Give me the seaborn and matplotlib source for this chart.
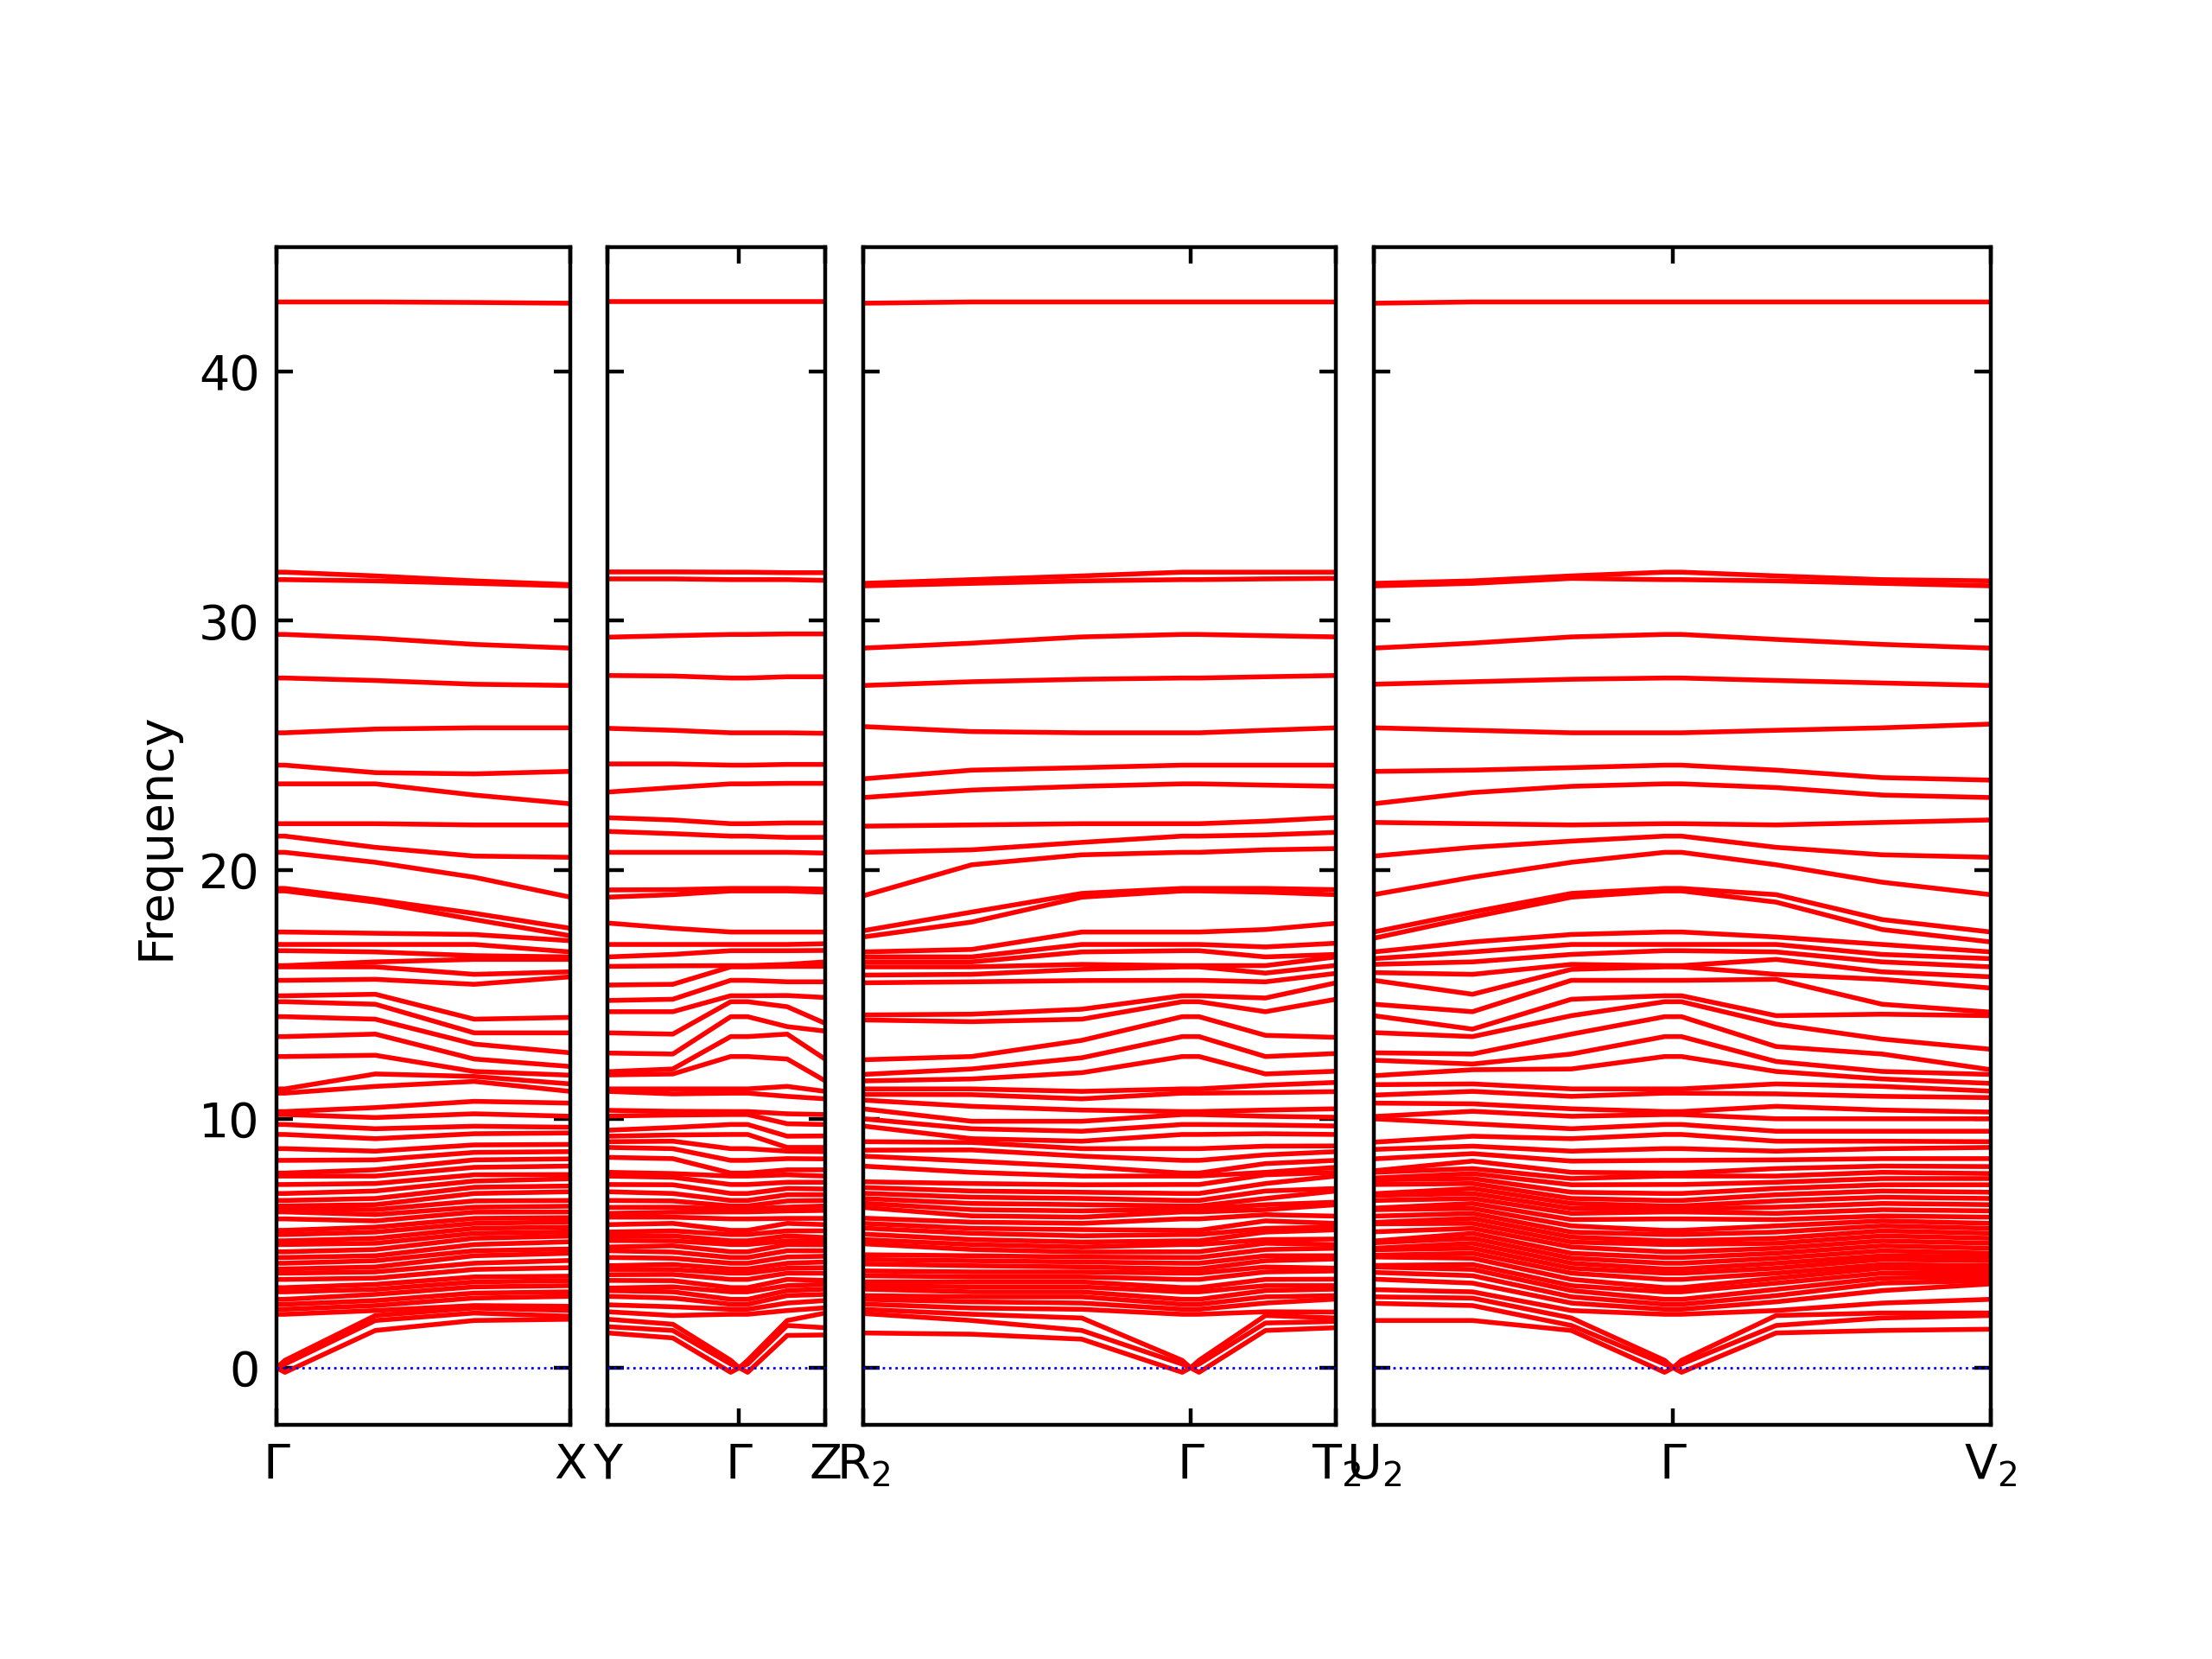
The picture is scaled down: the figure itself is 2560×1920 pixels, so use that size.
import matplotlib
matplotlib.use("Agg")
import matplotlib.pyplot as plt
import numpy as np
import pandas as pd
import seaborn as sns

# Phonon frequencies, sorted at each k-point.
# "low" = bands up to ~11, "high" = bands above. Acoustic branches are 0 at Gamma.
GAMMA_ACOUSTIC = [0.0, 0.0, 0.0]
NEAR_GAMMA_ACOUSTIC = [-0.18, 0.15, 0.3]
GAMMA_OPTICAL = [2.15, 2.35, 2.55, 2.75, 3.05, 3.22, 3.55, 3.8, 3.97, 4.2,
                 4.43, 4.66, 4.95, 5.1, 5.35, 5.52, 5.98, 6.26, 6.38, 6.5,
                 6.72, 7.0, 7.36, 7.7, 7.82, 8.33, 8.8, 9.37, 9.77, 10.17,
                 10.29, 11.03, 11.2, 12.5, 13.3, 14.1, 14.7, 14.94, 15.56, 16.1,
                 16.15, 16.75, 17.0, 17.5, 19.15, 19.25, 20.7, 21.35, 21.85, 23.45,
                 24.2, 25.5, 27.7, 29.45, 31.65, 31.95, 42.8]

# panel 1: Gamma -> X
P1_K = [0.0, 0.06, 0.7, 1.4, 2.08]
P1_07_LOW = [1.5, 1.9, 2.1, 2.3, 2.5, 2.7, 2.95, 3.15, 3.35, 3.6, 3.85, 4.05, 4.3, 4.5, 4.75,
             5.0, 5.2, 5.45, 5.65, 5.9, 6.15, 6.35, 6.55, 6.8, 7.1, 7.4, 7.7, 7.95, 8.35, 8.7,
             9.2, 9.6, 10.05, 10.45, 11.3]
P1_07_HIGH = [11.8, 12.55, 13.4, 14.0, 14.6, 15.0, 15.6, 16.1, 16.3, 16.7, 17.0, 17.45, 18.7,
              18.8, 20.3, 20.9, 21.85, 23.45, 23.9, 25.65, 27.6, 29.3, 31.6, 31.8, 42.8]
P1_14_LOW = [1.9, 2.2, 2.4, 2.5, 2.8, 3.0, 3.25, 3.45, 3.65, 3.95, 4.2, 4.5, 4.7, 4.95, 5.2,
             5.4, 5.6, 5.8, 6.0, 6.25, 6.45, 6.7, 7.0, 7.25, 7.5, 7.75, 8.05, 8.35, 8.65, 8.95,
             9.4, 9.7, 10.2, 10.7, 11.5]
P1_14_HIGH = [11.7, 11.9, 12.4, 13.0, 13.45, 14.0, 15.4, 15.8, 16.4, 16.55, 17.0, 17.4, 18.0,
              18.25, 19.7, 20.55, 21.8, 23.0, 23.85, 25.7, 27.45, 29.05, 31.5, 31.6, 42.78]
X_LOW = [1.95, 2.07, 2.3, 2.47, 2.87, 3.05, 3.3, 3.5, 3.68, 4.02, 4.31, 4.6, 4.77, 5.06, 5.29,
         5.46, 5.65, 5.86, 6.03, 6.26, 6.49, 6.72, 7.07, 7.3, 7.59, 7.76, 8.1, 8.39, 8.68, 8.97,
         9.43, 9.66, 10.1, 10.63, 11.1]
X_HIGH = [11.4, 11.75, 12.1, 12.65, 13.45, 14.07, 15.7, 15.9, 16.4, 16.5, 16.7, 17.15, 17.35,
          17.65, 18.9, 20.5, 21.8, 22.65, 23.95, 25.7, 27.4, 28.9, 31.4, 31.45, 42.75]

# panel 2: Y -> Gamma -> Z
P2_K = [0.0, 0.46, 0.87, 0.93, 0.99, 1.27, 1.54]
Y_LOW = [1.4, 1.65, 1.95, 2.25, 2.53, 2.87, 3.1, 3.2, 3.51, 3.74, 3.95, 4.1, 4.43, 4.7, 4.85,
         5.11, 5.3, 5.45, 5.75, 6.05, 6.2, 6.44, 6.72, 7.07, 7.36, 7.7, 7.85, 8.45, 8.85, 9.08,
         9.3, 9.54, 10.11, 10.34, 11.1]
Y_HIGH = [11.2, 11.76, 11.89, 12.64, 13.45, 14.3, 14.75, 15.37, 16.12, 16.5, 17.0, 17.86, 18.9,
          19.19, 20.7, 21.54, 22.09, 23.12, 24.25, 25.68, 27.8, 29.34, 31.68, 31.96, 42.8]
P2_046_LOW = [1.2, 1.5, 1.75, 2.1, 2.45, 2.8, 3.05, 3.25, 3.5, 3.75, 3.95, 4.15, 4.4, 4.65, 4.9,
              5.1, 5.3, 5.5, 5.8, 6.05, 6.25, 6.45, 6.7, 7.0, 7.35, 7.65, 7.8, 8.4, 8.8, 9.1,
              9.35, 9.65, 10.15, 10.3, 11.0]
P2_046_HIGH = [11.2, 11.8, 12.0, 12.6, 13.4, 14.3, 14.8, 15.4, 16.14, 16.6, 17.0, 17.65, 19.0,
               19.2, 20.7, 21.45, 22.0, 23.3, 24.25, 25.6, 27.78, 29.4, 31.68, 31.96, 42.8]
P2_127_LOW = [1.3, 1.7, 1.9, 2.3, 2.6, 2.9, 3.1, 3.3, 3.55, 3.8, 4.0, 4.2, 4.45, 4.7, 4.95,
              5.1, 5.3, 5.5, 5.8, 6.0, 6.3, 6.45, 6.7, 6.95, 7.2, 7.45, 7.75, 7.95, 8.4, 8.7,
              8.85, 9.3, 9.8, 10.2, 10.9]
P2_127_HIGH = [11.3, 12.4, 13.4, 13.7, 14.5, 14.95, 15.5, 16.12, 16.2, 16.75, 17.0, 17.5, 19.15,
               19.25, 20.7, 21.3, 21.88, 23.47, 24.23, 25.5, 27.75, 29.47, 31.65, 31.93, 42.8]
Z_LOW = [1.32, 1.61, 2.2, 2.41, 2.7, 2.95, 3.16, 3.35, 3.51, 3.8, 4.02, 4.25, 4.48, 4.7, 4.94,
         5.1, 5.23, 5.5, 5.75, 6.0, 6.32, 6.5, 6.72, 6.95, 7.18, 7.45, 7.7, 7.95, 8.39, 8.68,
         8.85, 9.31, 9.77, 10.17, 10.8]
Z_HIGH = [11.1, 11.52, 12.39, 13.52, 13.83, 14.87, 15.5, 16.12, 16.3, 16.76, 17.03, 17.5, 19.1,
          19.22, 20.67, 21.3, 21.88, 23.47, 24.23, 25.48, 27.75, 29.47, 31.62, 31.93, 42.8]

# panel 3: R2 -> Gamma -> T2
P3_K = [0.0, 0.77, 1.55, 2.26, 2.32, 2.38, 2.85, 3.35]
R2_LOW = [1.4, 2.18, 2.35, 2.56, 2.75, 2.9, 3.16, 3.3, 3.45, 3.7, 3.89, 4.17, 4.35, 4.54, 4.98,
          5.15, 5.37, 5.61, 5.8, 6.01, 6.44, 6.61, 6.8, 7.01, 7.24, 7.47, 8.1, 8.5, 8.74, 9.08,
          9.71, 10.0, 10.4, 10.75, 10.98]
R2_HIGH = [11.2, 11.52, 11.78, 12.37, 13.97, 14.17, 15.46, 15.77, 16.1, 16.3, 16.5, 16.7, 17.3,
           17.55, 18.95, 20.7, 21.75, 22.9, 23.65, 25.75, 27.4, 28.9, 31.4, 31.5, 42.75]
P3_077_LOW = [1.35, 1.9, 2.15, 2.4, 2.65, 2.85, 3.05, 3.25, 3.45, 3.65, 3.85, 4.1, 4.3, 4.5, 4.75,
              4.95, 5.15, 5.4, 5.6, 5.85, 6.1, 6.35, 6.6, 6.85, 7.1, 7.4, 7.85, 8.3, 8.75, 9.05,
              9.2, 9.6, 9.9, 10.5, 10.97]
P3_077_HIGH = [11.2, 11.6, 12.0, 12.5, 13.9, 14.2, 15.5, 15.8, 16.1, 16.3, 16.5, 16.8, 17.9,
               18.3, 20.2, 20.8, 21.8, 23.2, 24.0, 25.55, 27.55, 29.1, 31.5, 31.65, 42.8]
P3_155_LOW = [1.15, 1.5, 2.0, 2.35, 2.6, 2.85, 3.05, 3.25, 3.45, 3.65, 3.85, 4.05, 4.25, 4.45, 4.65,
              4.85, 5.05, 5.3, 5.55, 5.8, 6.05, 6.3, 6.55, 6.8, 7.05, 7.35, 7.7, 8.08, 8.5, 8.8,
              9.1, 9.5, 9.9, 10.35, 10.8]
P3_155_HIGH = [11.1, 11.85, 12.45, 13.15, 14.0, 14.4, 15.55, 16.0, 16.2, 16.7, 17.0, 17.5, 18.9,
               19.05, 20.6, 21.1, 21.85, 23.35, 24.1, 25.5, 27.65, 29.35, 31.6, 31.8, 42.8]
P3_285_LOW = [1.5, 1.8, 2.1, 2.25, 2.6, 2.85, 3.1, 3.3, 3.55, 3.85, 4.05, 4.3, 4.5, 4.75, 5.0,
              5.15, 5.45, 5.6, 5.9, 6.15, 6.35, 6.55, 6.8, 7.1, 7.4, 7.75, 7.85, 8.2, 8.55, 8.9,
              9.4, 9.75, 10.1, 10.35, 11.05]
P3_285_HIGH = [11.35, 11.8, 12.5, 13.35, 14.3, 14.85, 15.5, 15.85, 16.15, 16.5, 16.9, 17.6, 19.1,
               19.25, 20.8, 21.4, 21.95, 23.4, 24.2, 25.6, 27.75, 29.4, 31.68, 31.95, 42.8]
T2_LOW = [1.61, 1.86, 2.0, 2.24, 2.76, 2.9, 3.16, 3.3, 3.56, 3.89, 4.0, 4.37, 4.5, 4.8, 4.95,
          5.17, 5.54, 5.65, 5.8, 6.09, 6.55, 6.65, 7.1, 7.2, 7.7, 7.85, 8.05, 8.33, 8.68, 8.91,
          9.37, 9.71, 10.06, 10.4, 11.09]
T2_HIGH = [11.46, 11.91, 12.62, 13.27, 14.8, 15.46, 15.84, 16.16, 16.5, 16.6, 17.05, 17.85, 19.0,
           19.2, 20.85, 21.5, 22.1, 23.35, 24.2, 25.7, 27.8, 29.35, 31.7, 31.95, 42.8]

# panel 4: U2 -> Gamma -> V2
P4_K = [0.0, 0.7, 1.4, 2.06, 2.12, 2.18, 2.85, 3.6, 4.37]
U2_LOW = [1.9, 2.59, 2.85, 3.14, 3.56, 3.83, 4.05, 4.11, 4.45, 4.52, 4.74, 4.8, 5.02, 5.09, 5.46,
          5.78, 5.84, 6.09, 6.35, 6.41, 6.72, 6.92, 6.99, 7.36, 7.55, 7.62, 7.85, 7.91, 8.39, 8.77,
          9.06, 10.0, 10.09, 10.63, 10.95]
U2_HIGH = [11.37, 11.73, 12.35, 12.65, 13.46, 14.14, 14.6, 15.56, 15.87, 16.2, 16.43, 16.7, 17.25,
           17.5, 19.0, 20.55, 21.9, 22.65, 23.95, 25.7, 27.45, 28.9, 31.4, 31.5, 42.75]
P4_07_LOW = [1.9, 2.5, 2.8, 3.05, 3.4, 3.7, 3.95, 4.15, 4.4, 4.6, 4.8, 5.0, 5.2, 5.4, 5.6,
             5.8, 6.0, 6.2, 6.4, 6.6, 6.8, 7.0, 7.2, 7.4, 7.6, 7.8, 8.0, 8.3, 8.6, 8.9,
             9.3, 9.8, 10.3, 10.6, 11.1]
P4_07_HIGH = [11.4, 11.97, 12.2, 12.6, 13.3, 13.6, 14.3, 15.0, 15.8, 16.3, 16.7, 17.1, 18.1,
              18.3, 19.7, 20.9, 21.85, 23.1, 24.0, 25.6, 27.55, 29.1, 31.5, 31.6, 42.8]
P4_14_LOW = [1.5, 1.7, 2.0, 2.3, 2.6, 2.85, 3.1, 3.3, 3.55, 3.8, 4.0, 4.2, 4.4, 4.6, 4.85,
             5.05, 5.25, 5.45, 5.7, 5.95, 6.2, 6.4, 6.6, 6.8, 7.05, 7.35, 7.6, 7.85, 8.3, 8.7,
             9.2, 9.6, 10.1, 10.4, 10.9]
P4_14_HIGH = [11.2, 12.0, 12.6, 13.4, 14.14, 14.8, 15.56, 16.0, 16.2, 16.6, 17.0, 17.4, 18.9,
              19.05, 20.3, 21.15, 21.8, 23.35, 24.1, 25.5, 27.65, 29.35, 31.7, 31.8, 42.8]
P4_285_LOW = [1.4, 1.7, 2.1, 2.3, 2.65, 2.9, 3.15, 3.4, 3.6, 3.8, 4.0, 4.2, 4.4, 4.6, 4.8,
              5.0, 5.2, 5.45, 5.7, 5.95, 6.2, 6.45, 6.7, 6.95, 7.2, 7.45, 7.7, 8.0, 8.35, 8.7,
              9.1, 9.5, 10.0, 10.5, 11.0]
P4_285_HIGH = [11.4, 11.9, 12.3, 12.9, 13.8, 14.14, 15.6, 15.8, 16.4, 16.7, 17.0, 17.3, 18.7,
               19.0, 20.2, 20.9, 21.8, 23.3, 24.0, 25.6, 27.6, 29.25, 31.6, 31.8, 42.8]
P4_36_LOW = [1.5, 2.0, 2.2, 2.6, 3.1, 3.4, 3.6, 3.8, 4.0, 4.15, 4.35, 4.5, 4.7, 4.9, 5.1,
             5.3, 5.5, 5.7, 5.9, 6.1, 6.35, 6.6, 6.85, 7.1, 7.35, 7.6, 7.85, 8.1, 8.4, 8.8,
             9.1, 9.5, 10.0, 10.35, 10.9]
P4_36_HIGH = [11.3, 11.6, 11.9, 12.6, 13.2, 14.2, 14.6, 15.6, 15.9, 16.3, 16.6, 17.0, 17.6,
              18.0, 19.5, 20.6, 21.9, 23.0, 23.7, 25.7, 27.5, 29.05, 31.5, 31.65, 42.8]
V2_LOW = [1.55, 2.1, 2.2, 2.75, 3.37, 3.5, 3.65, 3.8, 3.95, 4.1, 4.3, 4.45, 4.6, 4.8, 5.0,
          5.2, 5.4, 5.6, 5.8, 6.05, 6.3, 6.55, 6.8, 7.05, 7.35, 7.6, 7.8, 8.08, 8.4, 8.85,
          9.08, 9.5, 10.0, 10.27, 10.85]
V2_HIGH = [11.11, 11.42, 11.78, 11.97, 12.79, 14.14, 14.28, 15.25, 15.7, 16.1, 16.43, 16.7, 17.1,
           17.5, 19.0, 20.5, 22.0, 22.9, 23.6, 25.85, 27.4, 28.9, 31.4, 31.6, 42.8]

P1_TICKS = ["Γ", "X"]
P2_TICKS = ["Y", "Γ", "Z"]
P3_TICKS = [r"R$_2$", "Γ", r"T$_2$"]
P4_TICKS = [r"U$_2$", "Γ", r"V$_2$"]

GAMMA = GAMMA_ACOUSTIC + GAMMA_OPTICAL
NEAR = NEAR_GAMMA_ACOUSTIC + GAMMA_OPTICAL

panels = [
    (P1_K, [GAMMA, NEAR, P1_07_LOW + P1_07_HIGH, P1_14_LOW + P1_14_HIGH, X_LOW + X_HIGH],
     [P1_K[0], P1_K[-1]], P1_TICKS),
    (P2_K, [Y_LOW + Y_HIGH, P2_046_LOW + P2_046_HIGH, NEAR, GAMMA, NEAR,
            P2_127_LOW + P2_127_HIGH, Z_LOW + Z_HIGH],
     [P2_K[0], P2_K[3], P2_K[-1]], P2_TICKS),
    (P3_K, [R2_LOW + R2_HIGH, P3_077_LOW + P3_077_HIGH, P3_155_LOW + P3_155_HIGH, NEAR, GAMMA,
            NEAR, P3_285_LOW + P3_285_HIGH, T2_LOW + T2_HIGH],
     [P3_K[0], P3_K[4], P3_K[-1]], P3_TICKS),
    (P4_K, [U2_LOW + U2_HIGH, P4_07_LOW + P4_07_HIGH, P4_14_LOW + P4_14_HIGH, NEAR, GAMMA, NEAR,
            P4_285_LOW + P4_285_HIGH, P4_36_LOW + P4_36_HIGH, V2_LOW + V2_HIGH],
     [P4_K[0], P4_K[4], P4_K[-1]], P4_TICKS),
]


def band_frame(kpos, rows):
    records = []
    for k, row in zip(kpos, rows):
        assert len(row) == 60, (k, len(row))
        for band, freq in enumerate(np.sort(row)):
            records.append((k, freq, band))
    return pd.DataFrame(records, columns=["k", "freq", "band"])


sns.set_style("ticks")
plt.rcParams.update({
    "font.family": ["DejaVu Sans"],
    "font.size": 10,
    "axes.edgecolor": "black",
    "axes.labelcolor": "black",
    "text.color": "black",
    "xtick.color": "black",
    "ytick.color": "black",
    "xtick.direction": "in",
    "ytick.direction": "in",
    "xtick.top": True,
    "ytick.right": True,
    "xtick.major.size": 3.5,
    "ytick.major.size": 3.5,
    "xtick.labelsize": 10,
    "ytick.labelsize": 10,
    "axes.linewidth": 0.8,
})

fig = plt.figure(figsize=(6.4, 4.8), dpi=400)
gs = fig.add_gridspec(1, 4, width_ratios=[p[0][-1] for p in panels], wspace=0.094,
                      left=0.125, right=0.9, bottom=0.141, top=0.851)

for i, (kpos, rows, tick_pos, tick_lbl) in enumerate(panels):
    ax = fig.add_subplot(gs[0, i])
    df = band_frame(kpos, rows)
    sns.lineplot(data=df, x="k", y="freq", units="band", estimator=None, color="red",
                 linewidth=1.0, legend=False, ax=ax)
    ax.axhline(0, color="blue", linestyle=":", linewidth=0.5, zorder=5)
    ax.set_xlim(kpos[0], kpos[-1])
    ax.set_ylim(-2.3, 45.0)
    ax.set_xticks(tick_pos)
    ax.set_xticklabels(tick_lbl)
    ax.set_yticks([0, 10, 20, 30, 40])
    ax.set_xlabel("")
    if i == 0:
        ax.set_ylabel("Frequency")
    else:
        ax.set_ylabel("")
        ax.tick_params(labelleft=False)

fig.savefig("out.png", dpi=400)
